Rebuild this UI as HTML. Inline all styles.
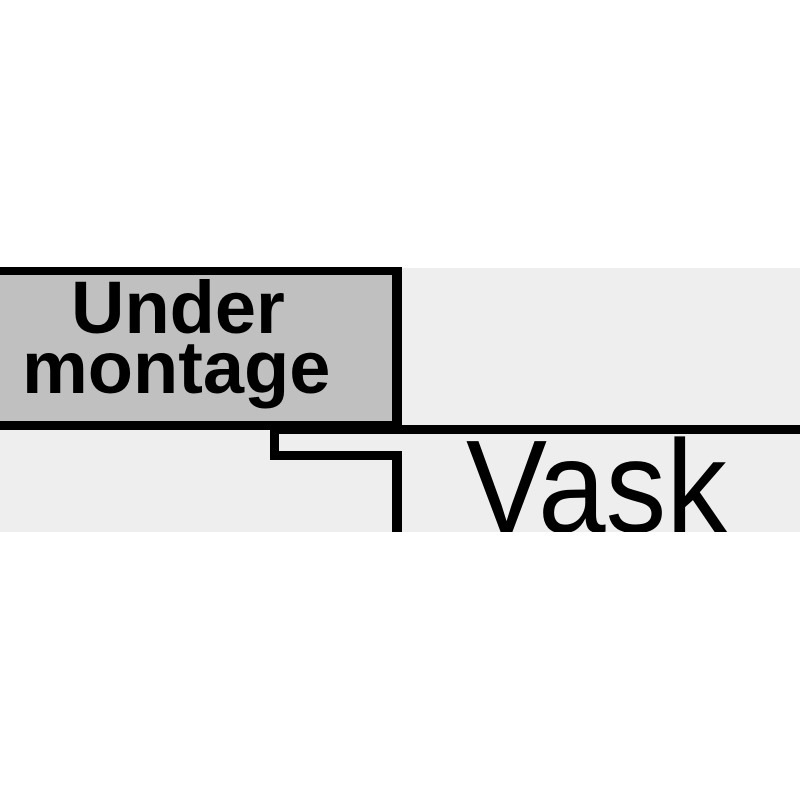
<!DOCTYPE html>
<html><head><style>
html,body{margin:0;padding:0;background:#fff;width:800px;height:800px;overflow:hidden}
.band{position:absolute;left:0;top:268px;width:800px;height:264px;background:#eeeeee;overflow:hidden}
.box{position:absolute;left:0;top:267px;width:392px;height:146px;background:#c0c0c0;border-top:8px solid #000;border-right:10px solid #000;border-bottom:9px solid #000;box-sizing:content-box}
.t{position:absolute;font-family:"Liberation Sans",sans-serif;font-weight:bold;font-size:74px;color:#000;white-space:nowrap;line-height:1}
.k{position:absolute;background:#000}
.v{position:absolute;font-family:"Liberation Sans",sans-serif;font-size:132px;color:#000;white-space:nowrap;line-height:1;left:466px;transform:scaleX(0.92);transform-origin:left top}
</style></head><body>
<div class="band">
  <div class="v" style="top:153px">Vask</div>
</div>
<div class="box"></div>
<div class="t" style="left:71px;top:271px">Under</div>
<div class="t" style="left:22px;top:331px">montage</div>
<div class="k" style="left:270px;top:425px;width:530px;height:9px"></div>
<div class="k" style="left:270px;top:425px;width:9px;height:35px"></div>
<div class="k" style="left:270px;top:451px;width:132px;height:9px"></div>
<div class="k" style="left:392px;top:451px;width:10px;height:81px"></div>
</body></html>
